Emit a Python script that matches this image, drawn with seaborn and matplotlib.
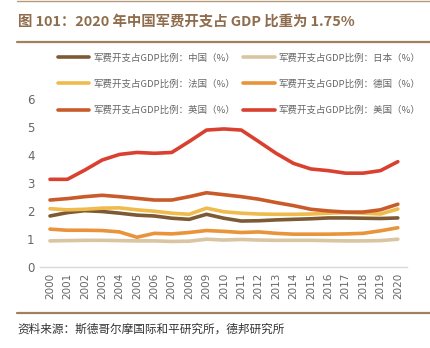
import numpy as np
import pandas as pd
import matplotlib
matplotlib.use("Agg")
import matplotlib.pyplot as plt
import seaborn as sns
from matplotlib.lines import Line2D

years = list(range(2000, 2021))

china = [1.82, 1.94, 2.01, 1.98, 1.92, 1.85, 1.82, 1.74, 1.70, 1.88, 1.74,
         1.64, 1.65, 1.68, 1.70, 1.72, 1.75, 1.75, 1.74, 1.73, 1.75]
japan = [0.93, 0.94, 0.95, 0.95, 0.94, 0.93, 0.93, 0.91, 0.92, 0.99, 0.96,
         0.98, 0.96, 0.95, 0.95, 0.95, 0.94, 0.93, 0.93, 0.94, 0.99]
france = [2.08, 2.04, 2.06, 2.10, 2.11, 2.04, 1.99, 1.92, 1.88, 2.10, 1.97,
          1.92, 1.89, 1.88, 1.88, 1.89, 1.92, 1.94, 1.92, 1.89, 2.07]
germany = [1.35, 1.31, 1.31, 1.30, 1.25, 1.06, 1.20, 1.18, 1.23, 1.30, 1.27,
           1.23, 1.25, 1.20, 1.17, 1.17, 1.17, 1.18, 1.20, 1.29, 1.40]
uk = [2.39, 2.44, 2.51, 2.56, 2.51, 2.45, 2.39, 2.39, 2.51, 2.65, 2.58,
      2.51, 2.42, 2.30, 2.19, 2.06, 2.00, 1.96, 1.96, 2.04, 2.24]
usa = [3.13, 3.13, 3.46, 3.82, 4.02, 4.09, 4.06, 4.09, 4.48, 4.89, 4.93,
       4.89, 4.48, 4.06, 3.70, 3.50, 3.44, 3.35, 3.35, 3.44, 3.76]

labels = ["军费开支占GDP比例：中国（%）", "军费开支占GDP比例：日本（%）",
          "军费开支占GDP比例：法国（%）", "军费开支占GDP比例：德国（%）",
          "军费开支占GDP比例：英国（%）", "军费开支占GDP比例：美国（%）"]
series = [china, japan, france, germany, uk, usa]
colors = ["#7d5a34", "#d9c5a2", "#eebb4c", "#e9933a", "#c95b2b", "#da402f"]

sns.set_theme(style="white")
plt.rcParams["font.family"] = ["Noto Sans CJK SC", "DejaVu Sans"]

df = pd.DataFrame({
    "year": np.tile(years, len(series)),
    "value": np.concatenate(series),
    "series": np.repeat(labels, len(years)),
})

fig = plt.figure(figsize=(4.31, 3.48), dpi=100)
ax = fig.add_axes([0.093, 0.233, 0.851, 0.4825])

sns.lineplot(data=df, x="year", y="value", hue="series", hue_order=labels,
             palette=colors, linewidth=2.6, legend=False, ax=ax)

ax.set_xlim(1999.43, 2020.52)
ax.set_ylim(0, 6)
ax.set_xticks(years)
ax.set_xticklabels([str(y) for y in years], rotation=90, fontsize=7.5,
                   color="#666666", family="DejaVu Sans")
ax.set_yticks(range(0, 7))
ax.set_yticklabels([str(v) for v in range(0, 7)], fontsize=8.5,
                   color="#666666", family="DejaVu Sans")
ax.tick_params(axis="both", length=0, pad=4)
ax.set_xlabel("")
ax.set_ylabel("")
for side in ["top", "left", "right"]:
    ax.spines[side].set_visible(False)
ax.spines["bottom"].set_color("#d9d9d9")
ax.spines["bottom"].set_linewidth(1.0)

# two-column legend filled row by row
order = [0, 2, 4, 1, 3, 5]
handles = [Line2D([0], [0], color=colors[i], linewidth=2.6) for i in order]
fig.legend(handles, [labels[i] for i in order], loc="upper left",
           bbox_to_anchor=(0.115, 0.872), ncol=2, frameon=False, fontsize=6.8,
           handlelength=3.3, handletextpad=0.4, columnspacing=0.9,
           labelspacing=1.8, labelcolor="#666666")

# header and footer rules
fig.add_artist(Line2D([0.04, 1.0], [0.997, 0.997], color="#b59a7c", linewidth=1.0))
fig.add_artist(Line2D([0.04, 1.0], [0.879, 0.879], color="#a08060", linewidth=1.6))
fig.add_artist(Line2D([0.04, 1.0], [0.1, 0.1], color="#a08060", linewidth=1.6))

fig.text(0.042, 0.937, "图 101：2020 年中国军费开支占 GDP 比重为 1.75%",
         fontsize=10.4, fontweight="bold", color="#8e6c4c", va="center", ha="left")
fig.text(0.04, 0.055, "资料来源：斯德哥尔摩国际和平研究所，德邦研究所",
         fontsize=8.4, color="#333333", va="center", ha="left")

fig.savefig("out.png", dpi=100, facecolor="white")
